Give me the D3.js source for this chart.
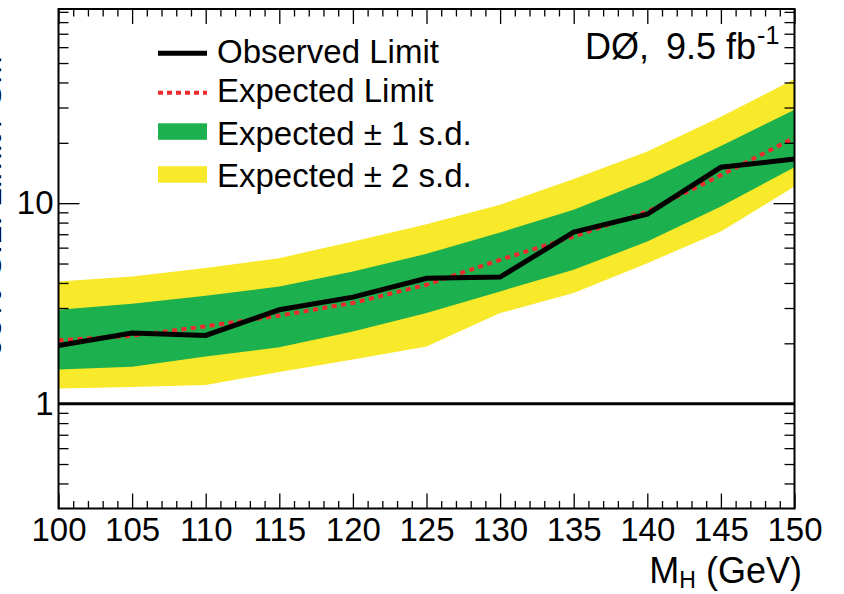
<!DOCTYPE html>
<html><head><meta charset="utf-8">
<script src="https://cdn.jsdelivr.net/npm/d3@7"></script>
<style>
body{margin:0;background:#fff}
svg{display:block}
text{font-family:"Liberation Sans",Arial,Helvetica,sans-serif;fill:#000}
</style>
</head><body>
<svg id="chart" width="844" height="594"></svg>
<script>
// ---- data ----
const massPoints = [100, 105, 110, 115, 120, 125, 130, 135, 140, 145, 150];
const observed   = [1.95, 2.25, 2.19, 2.94, 3.40, 4.22, 4.28, 7.17, 8.81, 15.1, 16.6];
const expected   = [2.07, 2.18, 2.43, 2.75, 3.18, 3.92, 5.22, 6.82, 9.08, 13.8, 21.2];
const minus1sd   = [1.48, 1.53, 1.72, 1.91, 2.29, 2.83, 3.63, 4.65, 6.44, 9.62, 15.1];
const plus1sd    = [2.94, 3.15, 3.45, 3.84, 4.56, 5.59, 7.14, 9.26, 12.96, 19.3, 29.2];
const minus2sd   = [1.19, 1.21, 1.24, 1.44, 1.66, 1.93, 2.83, 3.56, 5.02, 7.22, 12.1];
const plus2sd    = [4.07, 4.31, 4.75, 5.32, 6.44, 7.84, 9.81, 13.2, 18.1, 27.0, 41.6];
const smReference = 1;

const xMajorTicks = [100, 105, 110, 115, 120, 125, 130, 135, 140, 145, 150];
const xMinorTicks = d3.range(100, 151).filter(v => v % 5 !== 0);
const yMajorTicks = [1, 10];
const yMinorTicks = [0.4, 0.5, 0.6, 0.7, 0.8, 0.9, 2, 3, 4, 5, 6, 7, 8, 9, 20, 30, 40, 50, 60, 70, 80, 90];

const legendLabels = ["Observed Limit", "Expected Limit", "Expected \u00B1 1 s.d.", "Expected \u00B1 2 s.d."];
const xTitle = ["M", "H", " (GeV)"];
const yTitle = "95% C.L. Limit / SM";
const expLabel = ["D\u00D8,", "9.5 fb", "-1"];

// ---- styles ----
const GREEN = "#1db04f", YELLOW = "#f8e92a", RED = "#ec2a2d";
const FONT = '"Liberation Sans",Arial,Helvetica,sans-serif';

const svg = d3.select("#chart");
const L = 58.5, R = 794.5, T = 9, B = 508.5;
const x = d3.scaleLinear().domain([100, 150]).range([L, R]);
const y = d3.scaleLog().domain([0.3, 93]).range([B, T]);

// bands
const band = (lo, hi) => d3.area()
  .x((d, i) => x(massPoints[i]))
  .y0((d, i) => y(lo[i]))
  .y1((d, i) => y(hi[i]));
svg.append("path").datum(massPoints).attr("d", band(minus2sd, plus2sd)).attr("fill", YELLOW);
svg.append("path").datum(massPoints).attr("d", band(minus1sd, plus1sd)).attr("fill", GREEN);

// SM = 1 line
svg.append("line")
  .attr("x1", x(100)).attr("x2", x(150))
  .attr("y1", y(smReference)).attr("y2", y(smReference))
  .attr("stroke", "#000").attr("stroke-width", 3);

const lineOf = arr => d3.line().x((d, i) => x(massPoints[i])).y((d, i) => y(arr[i]));
svg.append("path").datum(massPoints).attr("d", lineOf(expected))
  .attr("fill", "none").attr("stroke", RED).attr("stroke-width", 4)
  .attr("stroke-dasharray", "5,4.5");
svg.append("path").datum(massPoints).attr("d", lineOf(observed))
  .attr("fill", "none").attr("stroke", "#000").attr("stroke-width", 5)
  .attr("stroke-linejoin", "miter");

// axes
const axG = svg.append("g");
function addAxis(gen, tx, ty, withText) {
  const g = axG.append("g").attr("transform", `translate(${tx},${ty})`).call(gen);
  g.select(".domain").remove();
  g.selectAll("line").attr("stroke", "#000").attr("stroke-width", 1.3);
  g.attr("font-family", FONT).attr("font-size", 33);
  if (!withText) g.selectAll("text").remove();
  return g;
}
addAxis(d3.axisBottom(x).tickValues(xMajorTicks).tickSizeInner(-15).tickSizeOuter(0).tickPadding(9).tickFormat(d3.format("d")), 0, B, true);
addAxis(d3.axisBottom(x).tickValues(xMinorTicks).tickSizeInner(-7.5).tickSizeOuter(0).tickFormat(""), 0, B, false);
addAxis(d3.axisTop(x).tickValues(xMajorTicks).tickSizeInner(-15).tickSizeOuter(0).tickFormat(""), 0, T, false);
addAxis(d3.axisTop(x).tickValues(xMinorTicks).tickSizeInner(-7.5).tickSizeOuter(0).tickFormat(""), 0, T, false);
addAxis(d3.axisLeft(y).tickValues(yMajorTicks).tickSizeInner(-21).tickSizeOuter(0).tickPadding(5).tickFormat(d3.format("d")), L, 0, true);
addAxis(d3.axisLeft(y).tickValues(yMinorTicks).tickSizeInner(-10).tickSizeOuter(0).tickFormat(""), L, 0, false);
addAxis(d3.axisRight(y).tickValues(yMajorTicks).tickSizeInner(-21).tickSizeOuter(0).tickFormat(""), R, 0, false);
addAxis(d3.axisRight(y).tickValues(yMinorTicks).tickSizeInner(-10).tickSizeOuter(0).tickFormat(""), R, 0, false);

// frame
svg.append("rect").attr("x", L).attr("y", T).attr("width", R - L).attr("height", B - T)
  .attr("fill", "none").attr("stroke", "#000").attr("stroke-width", 2);

// x title
const xt = svg.append("text").attr("x", 802).attr("y", 582.5).attr("text-anchor", "end").attr("font-size", 36);
xt.append("tspan").text(xTitle[0]);
xt.append("tspan").attr("font-size", 23).attr("dy", 5.5).text(xTitle[1]);
xt.append("tspan").attr("dy", -5.5).text(xTitle[2]);

// y title (mostly beyond the left edge, as in the reference)
svg.append("text").attr("transform", "translate(1,206) rotate(-90)")
  .attr("text-anchor", "middle").attr("font-size", 34).text(yTitle);

// experiment label
const el = svg.append("text").attr("x", 585).attr("y", 59.3).attr("font-size", 36);
el.append("tspan").text(expLabel[0]);
el.append("tspan").attr("x", 666).text(expLabel[1]);
el.append("tspan").attr("font-size", 25).attr("dx", 1).attr("dy", -15).text(expLabel[2]);

// legend
const legRows = [
  {label: legendLabels[0], kind: "obs", sy: 53.3, by: 63.3},
  {label: legendLabels[1], kind: "exp", sy: 92.7, by: 101.7},
  {label: legendLabels[2], kind: "b1", sy: 131.3, by: 145},
  {label: legendLabels[3], kind: "b2", sy: 174.2, by: 186.7}
];
const lg = svg.append("g");
legRows.forEach(r => {
  if (r.kind === "obs") {
    lg.append("line").attr("x1", 158).attr("x2", 207).attr("y1", r.sy).attr("y2", r.sy)
      .attr("stroke", "#000").attr("stroke-width", 5);
  } else if (r.kind === "exp") {
    lg.append("line").attr("x1", 158).attr("x2", 207).attr("y1", r.sy).attr("y2", r.sy)
      .attr("stroke", RED).attr("stroke-width", 4).attr("stroke-dasharray", "5,4");
  } else {
    lg.append("rect").attr("x", 158).attr("width", 49).attr("y", r.sy - 8).attr("height", 16.5)
      .attr("fill", r.kind === "b1" ? GREEN : YELLOW);
  }
  lg.append("text").attr("x", 217).attr("y", r.by).attr("font-size", 33).text(r.label);
});
</script>
</body></html>
